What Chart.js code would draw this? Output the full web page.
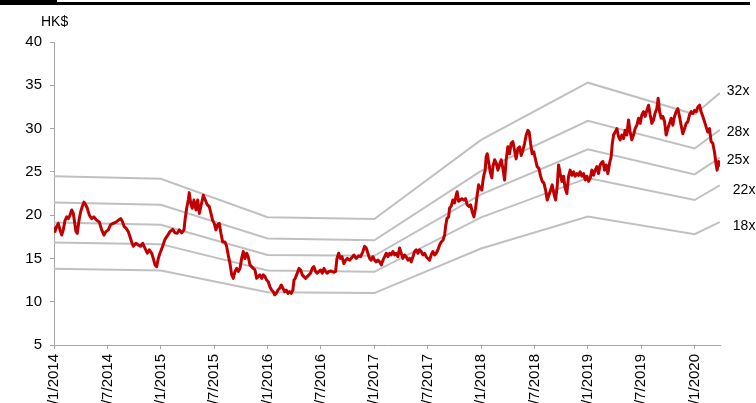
<!DOCTYPE html>
<html>
<head>
<meta charset="utf-8">
<script src="https://cdn.jsdelivr.net/npm/chart.js@4.4.1/dist/chart.umd.min.js"></script>
<style>
    html, body { margin: 0; padding: 0; background: #fff; overflow: hidden; }
    #wrap { position: relative; width: 756px; height: 412px; }
    #barThick { position: absolute; left: 0; top: 0; width: 57px; height: 5px; background: #000; }
    #barThin { position: absolute; left: 57px; top: 2px; width: 693px; height: 3px; background: #000; }
</style>
</head>
<body>
<div id="wrap">
    <div id="barThick"></div>
    <div id="barThin"></div>
    <canvas id="peBand" width="756" height="412"></canvas>
</div>
<script>
// x values are months since 1 Jan 2014
const tickMonths = [0, 6, 12, 18, 24, 30, 36, 42, 48, 54, 60, 66, 72];
const tickLabels = ['1/1/2014', '1/7/2014', '1/1/2015', '1/7/2015', '1/1/2016', '1/7/2016', '1/1/2017',
    '1/7/2017', '1/1/2018', '1/7/2018', '1/1/2019', '1/7/2019', '1/1/2020'];

// PE band knots (Jan of each year + last day)
const bandMonths = [0, 12, 24, 36, 48, 60, 72, 74.83];
const band32 = [24.5, 24.2, 19.75, 19.55, 28.7, 35.3, 31.65, 34.1];
const band28 = [21.45, 21.2, 17.3, 17.1, 25.1, 30.9, 27.7, 29.85];
const band25 = [19.15, 18.9, 15.4, 15.3, 22.4, 27.6, 24.7, 26.65];
const band22 = [16.85, 16.65, 13.6, 13.45, 19.75, 24.3, 21.75, 23.45];
const band18 = [13.8, 13.6, 11.1, 11.0, 16.15, 19.85, 17.8, 19.2];
const bandNames = ['32x', '28x', '25x', '22x', '18x'];
const bandLabelOffsets = [[7, -2], [7, 2], [7, 3], [13, 5], [13, 4]];

// share price, HK$ [month, price]
const priceSeries = [
    [0, 18.5], [0.11, 18.1], [0.3, 18.7], [0.48, 19.05], [0.67, 18.3], [0.87, 17.7], [1.04, 18.3],
    [1.24, 19.4], [1.43, 19.8], [1.61, 19.6], [1.8, 20.0], [1.99, 20.6], [2.17, 20.2], [2.47, 18.1],
    [2.62, 17.9], [2.81, 19.4], [3.0, 20.4], [3.18, 21.0], [3.37, 21.5], [3.56, 21.2], [3.74, 20.8],
    [3.97, 20.0], [4.24, 19.6], [4.49, 19.8], [4.8, 19.4], [5.09, 19.2], [5.36, 18.3], [5.62, 17.7],
    [5.84, 18.1], [6.1, 18.3], [6.37, 18.9], [6.66, 19.05], [6.97, 19.2], [7.22, 19.4], [7.49, 19.6],
    [7.72, 19.2], [7.87, 18.7], [8.09, 18.5], [8.35, 18.1], [8.54, 17.5], [8.73, 16.9], [8.91, 16.4],
    [9.21, 16.75], [9.47, 16.55], [9.74, 16.4], [9.97, 16.75], [10.22, 16.2], [10.48, 15.6], [10.71, 16.0],
    [10.98, 15.6], [11.16, 15.0], [11.35, 14.25], [11.54, 14.05], [11.72, 15.0], [11.91, 15.6], [12.21, 16.4],
    [12.47, 17.2], [12.73, 17.6], [13.03, 18.1], [13.34, 18.35], [13.6, 17.95], [13.85, 17.9], [14.08, 18.3],
    [14.35, 17.95], [14.61, 18.3], [14.72, 19.4], [14.91, 20.8], [15.09, 21.75], [15.2, 22.6], [15.36, 21.4],
    [15.54, 20.8], [15.73, 21.75], [15.96, 20.6], [16.15, 21.75], [16.33, 20.2], [16.55, 21.2], [16.78, 22.3],
    [17.0, 21.75], [17.22, 21.2], [17.45, 21.0], [17.64, 20.2], [17.83, 19.4], [18.01, 19.05], [18.2, 18.3],
    [18.39, 18.9], [18.57, 19.05], [18.76, 17.9], [18.96, 16.9], [19.21, 16.9], [19.4, 16.4], [19.58, 15.4],
    [19.78, 14.4], [19.97, 13.1], [20.15, 12.7], [20.34, 13.5], [20.53, 13.85], [20.71, 13.5], [20.9, 13.85],
    [21.09, 15.0], [21.27, 15.8], [21.46, 15.0], [21.65, 15.6], [21.83, 15.2], [22.02, 14.25], [22.21, 14.05],
    [22.39, 13.85], [22.58, 13.7], [22.78, 12.7], [22.96, 12.9], [23.15, 13.1], [23.34, 12.7], [23.52, 13.1],
    [23.71, 12.9], [23.9, 12.5], [24.08, 12.3], [24.27, 11.7], [24.46, 11.35], [24.64, 11.16], [24.8, 10.8],
    [24.98, 10.97], [25.17, 11.35], [25.36, 11.55], [25.54, 11.93], [25.73, 11.55], [25.92, 11.16], [26.1, 11.35],
    [26.29, 10.97], [26.48, 11.16], [26.66, 10.97], [26.85, 11.35], [26.97, 12.5], [27.11, 12.7], [27.34, 13.3],
    [27.53, 13.85], [27.72, 13.66], [27.9, 13.1], [28.09, 12.9], [28.28, 12.7], [28.46, 12.9], [28.65, 13.1],
    [28.84, 13.3], [29.02, 13.85], [29.21, 14.05], [29.4, 13.5], [29.58, 13.3], [29.78, 13.5], [29.97, 13.66],
    [30.15, 13.3], [30.34, 13.85], [30.53, 13.5], [30.71, 13.3], [30.9, 13.5], [31.16, 13.55], [31.46, 13.4],
    [31.65, 13.5], [31.8, 15.0], [31.99, 15.6], [32.17, 15.0], [32.36, 15.2], [32.58, 14.4], [32.78, 14.8],
    [32.96, 15.0], [33.22, 14.8], [33.48, 15.1], [33.71, 15.4], [33.97, 15.0], [34.24, 15.3], [34.46, 15.2],
    [34.72, 15.8], [34.91, 16.4], [35.09, 16.2], [35.28, 15.6], [35.47, 15.0], [35.65, 14.8], [35.84, 15.2],
    [36.03, 14.8], [36.21, 14.6], [36.4, 14.8], [36.6, 14.6], [36.78, 14.25], [36.97, 14.8], [37.16, 15.2],
    [37.34, 15.6], [37.53, 15.2], [37.72, 15.6], [37.9, 15.4], [38.09, 15.8], [38.28, 15.4], [38.46, 15.6],
    [38.65, 15.2], [38.84, 16.2], [39.02, 15.6], [39.21, 15.0], [39.4, 15.4], [39.58, 15.2], [39.78, 14.8],
    [39.97, 15.0], [40.15, 14.6], [40.34, 15.2], [40.53, 15.8], [40.71, 16.0], [40.9, 15.6], [41.09, 16.0],
    [41.27, 15.8], [41.46, 15.4], [41.65, 15.6], [41.83, 15.2], [42.02, 15.0], [42.21, 14.8], [42.39, 15.4],
    [42.58, 15.8], [42.78, 15.4], [42.96, 15.6], [43.15, 16.0], [43.34, 16.55], [43.52, 16.9], [43.71, 17.1],
    [43.9, 17.7], [44.01, 18.7], [44.16, 19.6], [44.35, 19.8], [44.46, 20.8], [44.64, 21.05], [44.83, 21.75],
    [45.02, 21.4], [45.2, 22.3], [45.31, 22.7], [45.47, 21.6], [45.65, 21.75], [45.84, 21.9], [46.07, 21.75],
    [46.26, 21.9], [46.44, 21.2], [46.63, 21.0], [46.82, 21.2], [47.0, 20.4], [47.19, 19.8], [47.38, 20.8],
    [47.53, 22.1], [47.72, 23.5], [47.9, 23.1], [48.09, 22.9], [48.2, 23.9], [48.31, 24.6], [48.46, 25.2],
    [48.57, 26.75], [48.69, 27.1], [48.84, 26.2], [49.02, 25.0], [49.21, 24.3], [49.33, 25.6], [49.52, 26.4],
    [49.7, 26.0], [49.89, 25.2], [50.08, 25.8], [50.26, 26.4], [50.45, 25.4], [50.64, 24.06], [50.82, 26.4],
    [51.01, 27.9], [51.2, 27.1], [51.38, 28.3], [51.57, 28.5], [51.76, 27.5], [51.94, 26.5], [52.13, 27.7],
    [52.33, 27.9], [52.51, 26.9], [52.7, 27.5], [52.89, 28.3], [53.07, 29.25], [53.26, 29.8], [53.4, 29.6],
    [53.56, 28.3], [53.74, 27.1], [53.93, 27.3], [54.12, 26.4], [54.3, 25.6], [54.49, 25.4], [54.69, 24.5],
    [54.87, 23.9], [55.06, 23.7], [55.25, 22.9], [55.43, 21.75], [55.62, 22.3], [55.81, 22.9], [55.99, 23.5],
    [56.18, 22.5], [56.37, 21.75], [56.55, 23.3], [56.71, 25.8], [56.89, 24.8], [57.08, 23.9], [57.27, 24.5],
    [57.45, 23.1], [57.64, 22.5], [57.83, 24.5], [58.01, 25.2], [58.2, 24.6], [58.39, 25.0], [58.57, 24.5],
    [58.76, 24.8], [58.96, 24.6], [59.13, 25.0], [59.33, 24.5], [59.52, 24.8], [59.7, 24.06], [59.89, 24.5],
    [60.08, 23.9], [60.26, 24.25], [60.45, 25.2], [60.64, 24.6], [60.82, 25.2], [61.01, 25.6], [61.2, 24.8],
    [61.38, 25.8], [61.57, 26.1], [61.69, 26.2], [61.88, 25.2], [62.06, 25.8], [62.25, 24.8], [62.44, 26.0],
    [62.62, 26.75], [62.73, 28.1], [62.89, 29.25], [63.07, 29.6], [63.26, 30.0], [63.45, 29.05], [63.63, 28.7],
    [63.82, 29.25], [64.01, 28.85], [64.19, 29.8], [64.38, 29.25], [64.57, 31.0], [64.75, 29.6], [64.94, 28.7],
    [65.13, 29.25], [65.31, 30.0], [65.51, 30.4], [65.7, 31.2], [65.88, 30.6], [66.07, 31.6], [66.26, 31.95],
    [66.44, 31.4], [66.63, 32.1], [66.82, 32.7], [67.0, 31.6], [67.19, 30.6], [67.38, 31.0], [67.56, 31.8],
    [67.75, 32.3], [67.9, 33.5], [68.06, 31.95], [68.24, 31.2], [68.43, 31.4], [68.62, 30.8], [68.8, 29.25],
    [68.99, 30.0], [69.18, 30.6], [69.36, 31.2], [69.55, 30.4], [69.74, 31.4], [69.92, 31.95], [70.11, 32.3],
    [70.3, 31.4], [70.48, 30.4], [70.67, 29.4], [70.87, 30.0], [71.05, 30.6], [71.24, 30.8], [71.43, 31.6],
    [71.61, 31.95], [71.8, 31.75], [71.99, 32.1], [72.17, 31.95], [72.36, 32.5], [72.55, 32.7], [72.73, 31.95],
    [72.92, 31.4], [73.11, 30.8], [73.29, 30.2], [73.48, 29.6], [73.67, 30.0], [73.85, 28.5], [74.04, 28.3],
    [74.23, 27.3], [74.42, 25.8], [74.53, 25.2], [74.69, 26.2], [74.83, 25.6]
];

const FONT = 'Arial, "Liberation Sans", sans-serif';
Chart.defaults.font.family = FONT;
Chart.defaults.font.size = 14;
Chart.defaults.color = '#000';

const bands = [band32, band28, band25, band22, band18];

const bandDatasets = bands.map((vals, i) => ({
    label: bandNames[i],
    data: bandMonths.map((m, j) => ({ x: m, y: vals[j] })),
    borderColor: '#c0c0c0',
    borderWidth: 2,
    pointRadius: 0,
    tension: 0,
    bandLabel: bandNames[i],
    bandOffset: bandLabelOffsets[i]
}));

// labels next to the band ends + the HK$ unit
const bandLabelPlugin = {
    id: 'bandLabels',
    afterDatasetsDraw(chart) {
        const ctx = chart.ctx;
        ctx.save();
        ctx.font = '14px ' + FONT;
        ctx.fillStyle = '#000';
        ctx.textBaseline = 'middle';
        ctx.textAlign = 'left';
        chart.data.datasets.forEach((ds, i) => {
            if (!ds.bandLabel) return;
            const pts = chart.getDatasetMeta(i).data;
            const last = pts[pts.length - 1];
            ctx.fillText(ds.bandLabel, last.x + ds.bandOffset[0], last.y + ds.bandOffset[1]);
        });
        ctx.fillText('HK$', 41, 22);
        ctx.restore();
    }
};

new Chart(document.getElementById('peBand'), {
    type: 'line',
    data: {
        datasets: [{
            label: 'Share price',
            data: priceSeries.map(p => ({ x: p[0], y: p[1] })),
            borderColor: '#c00000',
            borderWidth: 3,
            pointRadius: 0,
            tension: 0,
            borderJoinStyle: 'round'
        }, ...bandDatasets]
    },
    options: {
        responsive: false,
        animation: false,
        layout: { padding: { top: 42, right: 36, left: 0, bottom: 0 } },
        plugins: {
            legend: { display: false },
            tooltip: { enabled: false }
        },
        scales: {
            x: {
                type: 'linear',
                min: 0,
                max: 74.85,
                afterBuildTicks: scale => { scale.ticks = tickMonths.map(v => ({ value: v })); },
                afterFit: scale => { scale.height = 67; },
                border: { color: '#a6a6a6', width: 1 },
                grid: { drawOnChartArea: false, drawTicks: true, tickLength: 4, color: '#a6a6a6' },
                ticks: {
                    autoSkip: false,
                    minRotation: 90,
                    maxRotation: 90,
                    padding: 5,
                    font: { size: 15 },
                    callback: value => tickLabels[tickMonths.indexOf(value)]
                }
            },
            y: {
                min: 5,
                max: 40,
                afterFit: scale => { scale.width = 54; },
                border: { color: '#a6a6a6', width: 1 },
                grid: { drawOnChartArea: false, drawTicks: true, tickLength: 4, color: '#a6a6a6' },
                ticks: { stepSize: 5, padding: 8, font: { size: 15 } }
            }
        }
    },
    plugins: [bandLabelPlugin]
});
</script>
</body>
</html>
